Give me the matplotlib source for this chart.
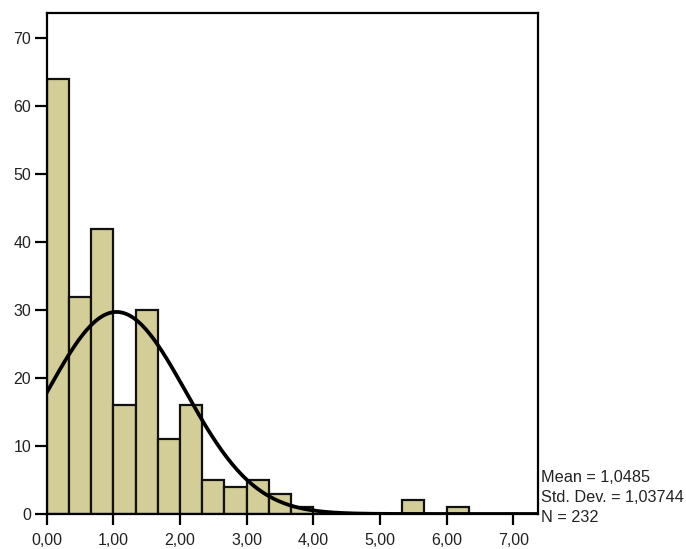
import numpy as np
import matplotlib
matplotlib.use("Agg")
import matplotlib.pyplot as plt

plt.rcParams['font.family'] = ['Liberation Sans', 'DejaVu Sans']

# Histogram data (bin width 1/3)
bin_left = [0/3, 1/3, 2/3, 3/3, 4/3, 5/3, 6/3, 7/3, 8/3, 9/3, 10/3, 11/3, 16/3, 18/3]
counts = [64, 32, 42, 16, 30, 11, 16, 5, 4, 5, 3, 1, 2, 1]
bin_width = 1/3
mean_val = 1.0485
sd_val = 1.03744
n_val = 232
x_ticks = [0, 1, 2, 3, 4, 5, 6, 7]
x_tick_labels = ["0,00", "1,00", "2,00", "3,00", "4,00", "5,00", "6,00", "7,00"]
y_ticks = [0, 10, 20, 30, 40, 50, 60, 70]
stats_lines = ["Mean = 1,0485", "Std. Dev. = 1,03744", "N = 232"]

fig = plt.figure(figsize=(6.86, 5.49), dpi=100)
ax = fig.add_axes([0.068, 0.0638, 0.716, 0.912])

ax.bar(bin_left, counts, width=bin_width, align='edge', color='#d3ce97',
       edgecolor='#111111', linewidth=1.6, zorder=2)

xs = np.linspace(0, 7.37, 400)
ys = n_val * bin_width * np.exp(-0.5 * ((xs - mean_val) / sd_val) ** 2) / (sd_val * np.sqrt(2 * np.pi))
ax.plot(xs, ys, color='black', linewidth=2.7, zorder=3)

ax.set_xlim(0, 7.37)
ax.set_ylim(0, 73.7)
ax.set_xticks(x_ticks)
ax.set_xticklabels(x_tick_labels)
ax.set_yticks(y_ticks)
for s in ax.spines.values():
    s.set_linewidth(1.6)
    s.set_color('black')
ax.tick_params(axis='both', direction='out', width=1.6, labelsize=11.5, colors='black',
               labelcolor='#222222')
ax.tick_params(axis='x', length=8, pad=6)
ax.tick_params(axis='y', length=9, pad=2)

y0 = 0.058
dy = 0.0364
fig.text(0.789, y0 + 2 * dy, stats_lines[0], fontsize=11.7, va='center', ha='left', color='#222222')
fig.text(0.789, y0 + dy, stats_lines[1], fontsize=11.7, va='center', ha='left', color='#222222')
fig.text(0.789, y0, stats_lines[2], fontsize=11.7, va='center', ha='left', color='#222222')

fig.savefig("out.png", dpi=100)
